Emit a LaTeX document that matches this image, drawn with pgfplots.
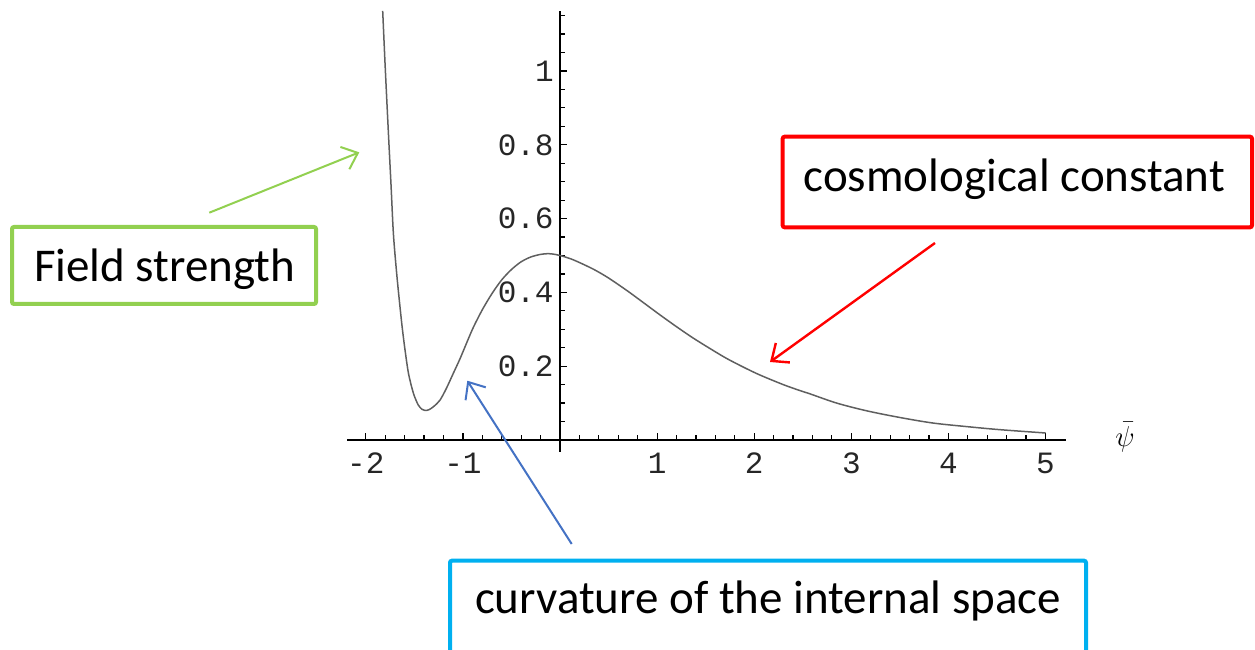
\documentclass[border=0pt]{standalone}
\usepackage{fontspec}
\setmainfont{Carlito}
\setmonofont{Liberation Mono}
\usepackage{pgfplots}
\pgfplotsset{compat=1.18}
\usetikzlibrary{arrows.meta}
\definecolor{fgreen}{HTML}{92D050}
\definecolor{fred}{HTML}{FF0000}
\definecolor{fcyan}{HTML}{00B0F0}
\definecolor{fblue}{HTML}{4472C4}
\definecolor{curvegray}{RGB}{95,95,95}
\begin{document}
\begin{tikzpicture}[x=0.5pt,y=0.5pt]
\useasboundingbox (0,0) rectangle (1255,649);
\begin{axis}[
  at={(280pt,104.5pt)}, anchor=origin,
  x=48.55pt, y=184.5pt,
  xmin=-2.19, xmax=5.21, ymin=-0.032, ymax=1.163,
  axis lines=middle,
  axis line style={-, line width=1pt, black},
  xtick={-2,-1,1,2,3,4,5},
  xticklabels={-2,-1,1,2,3,4,5},
  ytick={0.2,0.4,0.6,0.8,1},
  yticklabels={0.2,0.4,0.6,0.8,1},
  minor xtick={-2,-1.8,-1.6,-1.4,-1.2,-1,-0.8,-0.6,-0.4,-0.2,0.2,0.4,0.6,0.8,1,1.2,1.4,1.6,1.8,2,2.2,2.4,2.6,2.8,3,3.2,3.4,3.6,3.8,4,4.2,4.4,4.6,4.8,5},
  minor ytick={0.05,0.1,0.15,0.25,0.3,0.35,0.45,0.5,0.55,0.65,0.7,0.75,0.85,0.9,0.95,1.05,1.1,1.15},
  tick align=inside,
  major tick length=3.5pt, minor tick length=2.5pt,
  every tick/.style={black, line width=0.6pt},
  tick label style={font=\ttfamily\fontsize{15.5}{15.5}\selectfont, text=black!85},
  xticklabel style={anchor=center, yshift=-11.5pt, inner sep=0pt},
  yticklabel style={anchor=east, xshift=-3pt, inner sep=0pt},
  clip=false,
]
\addplot[curvegray, line width=0.75pt, smooth, tension=0.5] coordinates {
(-1.826,1.163) (-1.80,1.01) (-1.767,0.831) (-1.74,0.69) (-1.716,0.560)
(-1.685,0.46) (-1.655,0.379) (-1.625,0.305) (-1.596,0.244) (-1.56,0.18)
(-1.51,0.127) (-1.46,0.095) (-1.42,0.083) (-1.39,0.080) (-1.35,0.082)
(-1.30,0.091) (-1.236,0.108) (-1.17,0.140) (-1.10,0.180) (-1.03,0.220)
(-0.96,0.264) (-0.893,0.305) (-0.80,0.353) (-0.70,0.397) (-0.60,0.434)
(-0.50,0.462) (-0.40,0.483) (-0.30,0.496) (-0.20,0.503) (-0.12,0.505)
(-0.05,0.503) (0,0.500) (0.1,0.492) (0.2,0.481) (0.35,0.462)
(0.5,0.439) (0.7,0.403) (0.85,0.374) (1.03,0.339) (1.2,0.307)
(1.373,0.276) (1.55,0.247) (1.716,0.221) (1.9,0.196) (2.06,0.176)
(2.3,0.150) (2.47,0.134) (2.575,0.125) (2.85,0.100) (3.16,0.079) (3.5,0.061)
(3.84,0.046) (4.2,0.036) (4.53,0.028) (5.0,0.019)
};
\end{axis}
\node at (1125,212) {\fontsize{15}{15}\selectfont$\bar{\psi}$};
% Field strength
\draw[fgreen, line width=2pt, rounded corners=1pt] (12,345) rectangle (316,422);
\node[anchor=base, inner sep=0pt] at (164.7,367.3) {\fontsize{23.5}{23.5}\selectfont Field strength};
\draw[fgreen, line width=1pt, -{Straight Barb[length=7pt,width=12pt]}] (209.3,436.3) -- (359.3,496.7);
% cosmological constant
\draw[fred, line width=2pt, rounded corners=1pt] (782.7,421.7) rectangle (1252,512.3);
\node[anchor=base west, inner sep=0pt] at (803.3,457.3) {\fontsize{23.5}{23.5}\selectfont cosmological constant};
\draw[fred, line width=1.2pt, -{Straight Barb[length=7pt,width=12pt]}] (935,406) -- (770,287);
% curvature
\draw[fcyan, line width=2pt, rounded corners=1pt] (450,-20) rectangle (1086,88.3);
\node[anchor=base, inner sep=0pt] at (768,35) {\fontsize{23.5}{23.5}\selectfont curvature of the internal space};
\draw[fblue, line width=1pt, -{Straight Barb[length=7pt,width=12pt]}] (571.7,105) -- (467.3,268.3);
\end{tikzpicture}
\end{document}
